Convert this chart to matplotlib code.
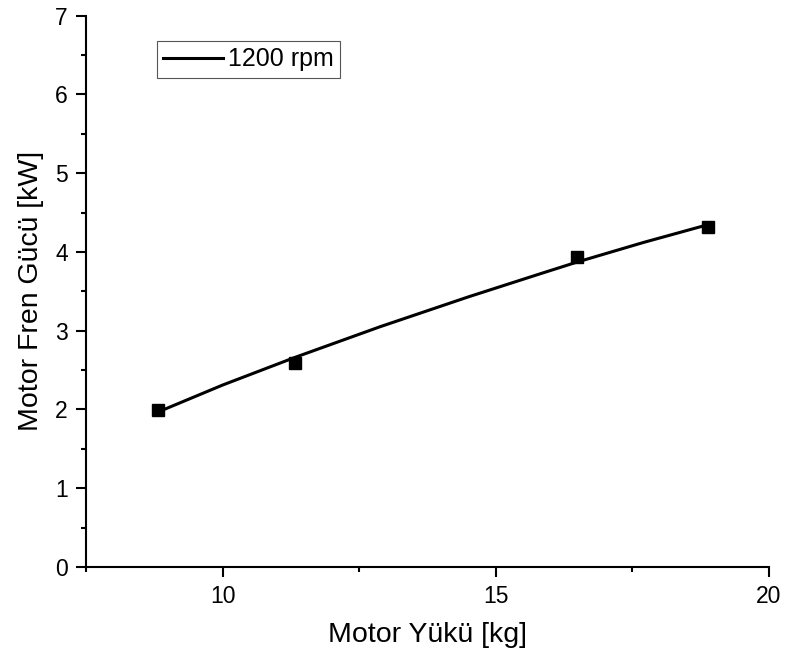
import numpy as np
import matplotlib.pyplot as plt
from matplotlib.ticker import MultipleLocator

plt.rcParams['font.family'] = ['Liberation Sans', 'DejaVu Sans']

# measured points (motor load kg, brake power kW)
load = [8.82, 11.32, 16.48, 18.88]
power = [1.99, 2.59, 3.94, 4.32]

# fitted curve
curve_load = [8.86, 10.0, 11.32, 12.88, 14.5, 15.8, 16.48, 17.7, 18.85]
curve_power = [1.98, 2.31, 2.66, 3.05, 3.43, 3.72, 3.87, 4.12, 4.34]

fig = plt.figure(figsize=(7.87, 6.52), dpi=100)
ax = fig.add_axes([0.1093, 0.1304, 0.8679, 0.8456])

ax.plot(curve_load, curve_power, color='black', lw=2.2, label='1200 rpm',
        solid_joinstyle='round')
ax.plot(load, power, ls='none', marker='s', ms=8.5, color='black')

ax.set_xlim(7.5, 20)
ax.set_ylim(0, 7)
ax.xaxis.set_major_locator(MultipleLocator(5))
ax.xaxis.set_minor_locator(MultipleLocator(2.5))
ax.yaxis.set_major_locator(MultipleLocator(1))
ax.yaxis.set_minor_locator(MultipleLocator(0.5))

for s in ['top', 'right']:
    ax.spines[s].set_visible(False)
for s in ['left', 'bottom']:
    ax.spines[s].set_linewidth(1.5)

ax.tick_params(which='major', direction='out', length=7, width=1.5,
               labelsize=16.5, pad=6)
ax.tick_params(which='minor', direction='out', length=3.5, width=1.5)

ax.set_xlabel('Motor Yükü [kg]', fontsize=20.5, labelpad=10)
ax.set_ylabel('Motor Fren Gücü [kW]', fontsize=20.5, labelpad=8)

leg = ax.legend(loc='upper left', bbox_to_anchor=(0.104, 0.954),
                fontsize=18, handlelength=2.4, handletextpad=0.2,
                borderpad=0.25, borderaxespad=0, fancybox=False,
                framealpha=1)
leg.get_frame().set_edgecolor('#555555')
leg.get_frame().set_linewidth(0.8)

fig.savefig('out.png', dpi=100)
